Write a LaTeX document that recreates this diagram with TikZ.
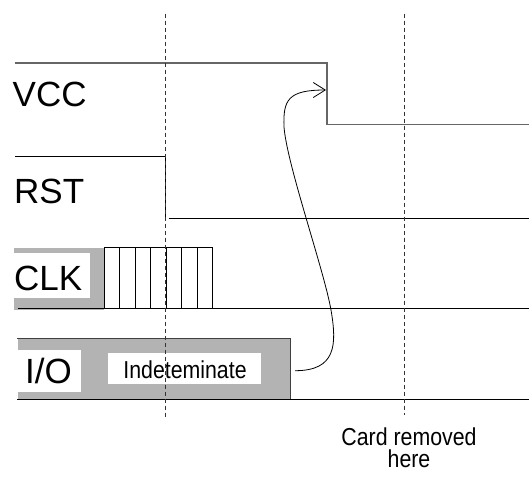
\documentclass[tikz,border=0pt]{standalone}
\usepackage{fontspec}
\setmainfont{Liberation Sans}
\newfontfamily\tightfont[FakeStretch=0.87]{Liberation Sans}
\usetikzlibrary{arrows.meta}
\definecolor{boxgray}{HTML}{B3B3B3}
\definecolor{vccgray}{HTML}{666666}
\definecolor{dashgray}{HTML}{333333}
\tikzset{
  sig/.style={line width=0.8pt, black},
  vccsig/.style={line width=1.2pt, vccgray},
  guide/.style={line width=0.8pt, dashgray, dash pattern=on 4pt off 3pt},
  graybox/.style={fill=boxgray, draw=none, inner sep=0pt, anchor=north west},
  whitebox/.style={fill=white, draw=none, inner sep=0pt, anchor=north west},
  biglabel/.style={inner sep=0pt, anchor=base west, font=\fontsize{35}{38}\selectfont},
  smalllabel/.style={inner sep=0pt, anchor=base, font=\tightfont\fontsize{24.5}{22}\selectfont},
  curvearrow/.style={line width=0.8pt, black, -{Straight Barb[length=12pt,width=15pt,line width=0.8pt]}}
}
\begin{document}
\begin{tikzpicture}[x=1pt,y=-1pt]
\useasboundingbox (0,0) rectangle (529,477);
% boxes
\node[graybox, minimum width=90.5pt, minimum height=62pt] (clkbox) at (13.5,247.5) {};
\node[whitebox, minimum width=75.9pt, minimum height=44.5pt] (clkwhite) at (13.5,253) {};
\node[graybox, minimum width=272.7pt, minimum height=60.5pt] (iobox) at (17.3,338.5) {};
\node[whitebox, minimum width=63.7pt, minimum height=42.4pt] (iowhite) at (17.3,349.3) {};
\node[whitebox, minimum width=153pt, minimum height=30.6pt] (indwhite) at (107.7,352.7) {};
\draw[line width=0.9pt, black!75] (iobox.north west) -- (iobox.north east) -- (iobox.south east);
% labels
\node[biglabel] (vcc) at (12.5,106.3) {VCC};
\node[biglabel] (rst) at (14,203.4) {RST};
\node[biglabel] (clk) at (14,290.7) {CLK};
\node[biglabel] (io) at (25,383) {I/O};
\node[smalllabel] (ind) at (185,378) {Indeteminate};
\node[smalllabel] (card) at (409,445) {Card removed};
\node[smalllabel] (here) at (409,467) {here};
% VCC
\coordinate (vccstart) at (15,63);
\coordinate (vcctop) at (327,63);
\coordinate (vcclow) at (327,124.5);
\coordinate (vccend) at (529,124.5);
\draw[vccsig] (vccstart) -- (vcctop) -- (vcclow) -- (vccend);
% RST
\coordinate (rststart) at (15,156);
\coordinate (rstfall) at (165.3,219.5);
\coordinate (rstlow) at (168.5,218.6);
\coordinate (rstend) at (529,218.6);
\draw[sig] (rststart) -| (rstfall);
\draw[sig] (rstlow) -- (rstend);
% CLK
\draw[sig] (clkbox.north east) -- (212.7,247.5);
\foreach \i in {0,...,7}{
  \draw[sig] ({104+15.53*\i},247.5) -- ({104+15.53*\i},308);
}
\coordinate (clkbase) at (17.5,308);
\coordinate (clkend) at (529,308);
\draw[sig] (clkbase) -- (clkend);
% I/O
\coordinate (iobase) at (17.3,399);
\coordinate (ioend) at (529,399);
\draw[sig] (iobase) -- (ioend);
% guides
\coordinate (g1t) at (165.5,13.5);
\coordinate (g1b) at (165.5,417);
\coordinate (g2t) at (404,13.5);
\coordinate (g2b) at (404,415);
\draw[guide] (g1t) -- (g1b);
\draw[guide] (g2t) -- (g2b);
% curve arrow
\coordinate (curvestart) at (295,370.7);
\coordinate (curveend) at (326,90);
\draw[curvearrow] (curvestart) .. controls (336,370.7) and (337,345) .. (331,310)
  .. controls (324,270) and (287,165) .. (284,127)
  .. controls (283,100) and (288,90) .. (curveend);
\end{tikzpicture}
\end{document}
